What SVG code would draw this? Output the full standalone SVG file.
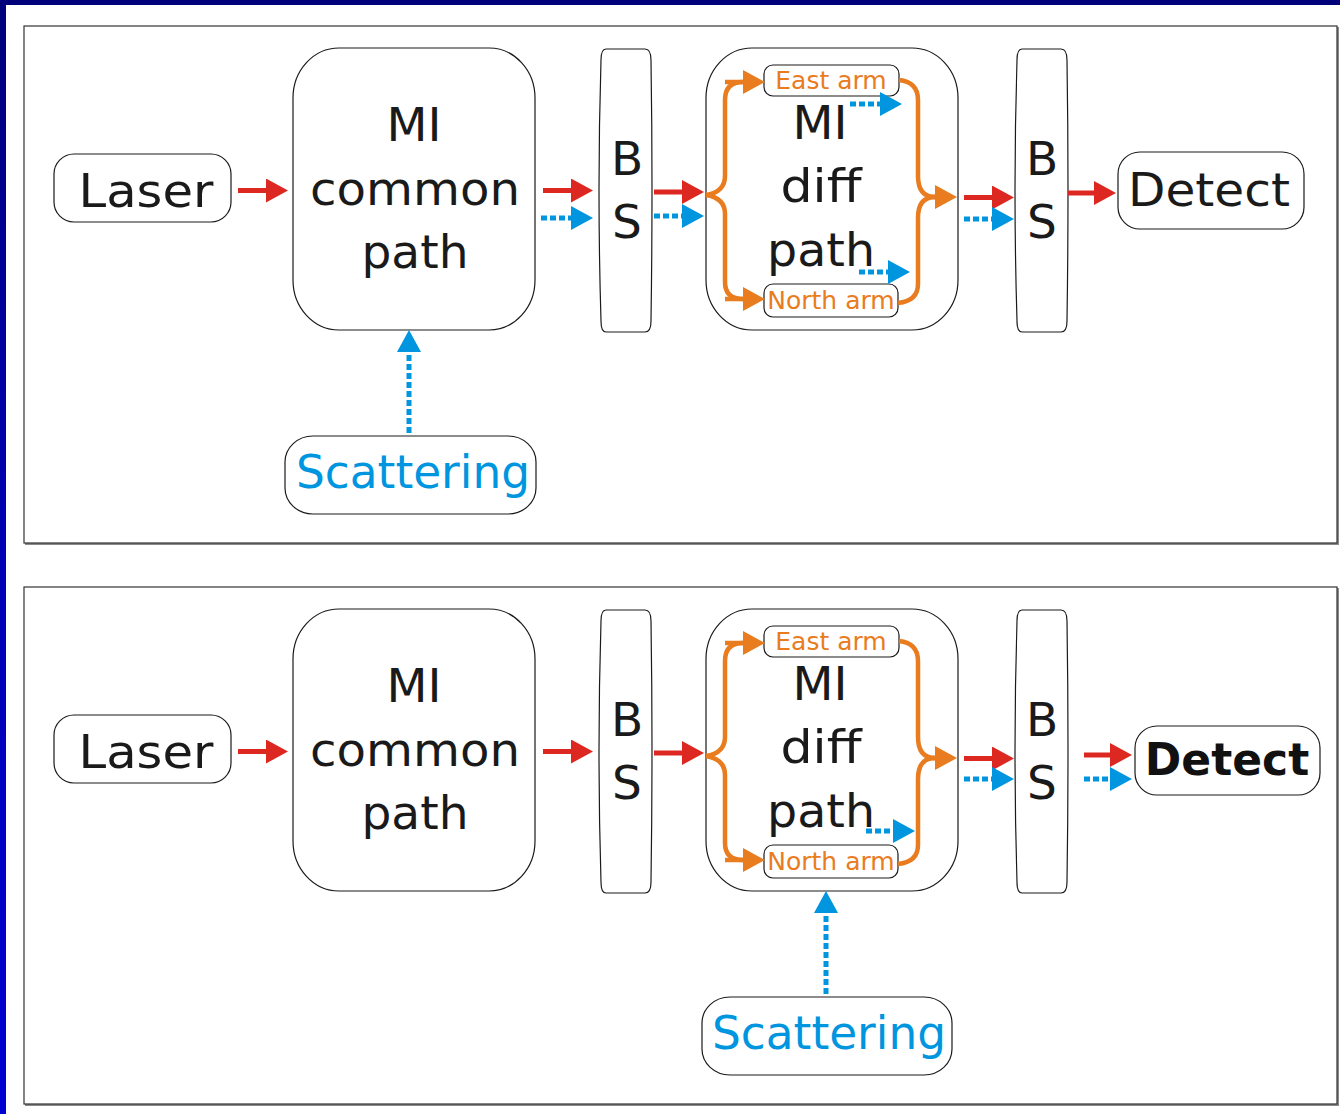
<svg xmlns="http://www.w3.org/2000/svg" width="1340" height="1114" viewBox="0 0 1340 1114">
  <defs>
    <linearGradient id="edge" x1="0" y1="0" x2="0" y2="1">
      <stop offset="0" stop-color="#00007a"/>
      <stop offset="0.5" stop-color="#0000b4"/>
      <stop offset="1" stop-color="#0000d0"/>
    </linearGradient>
    <marker id="headRed" markerUnits="userSpaceOnUse" markerWidth="22" markerHeight="24" refX="0" refY="12" orient="auto" viewBox="0 0 22 24">
      <path d="M0,0 L22,12 L0,24 Z" fill="#dc2820"/>
    </marker>
    <marker id="headBlue" markerUnits="userSpaceOnUse" markerWidth="22" markerHeight="24" refX="0" refY="12" orient="auto" viewBox="0 0 22 24">
      <path d="M0,0 L22,12 L0,24 Z" fill="#0095df"/>
    </marker>
    <marker id="headOrange" markerUnits="userSpaceOnUse" markerWidth="22" markerHeight="24" refX="0" refY="12" orient="auto" viewBox="0 0 22 24">
      <path d="M0,0 L22,12 L0,24 Z" fill="#e87c1e"/>
    </marker>
    <path id="bsShape" d="M606,49 L645,49 Q651,49 651,60 Q653,190 651,321 Q651,332 645,332 L606,332 Q601,332 601,321 Q597,190 601,60 Q601,49 606,49 Z"/>
  </defs>
  <style>
    .box { fill: #ffffff; stroke: #1a1a1a; stroke-width: 1.2; }
    .panel { fill: #ffffff; stroke: #333333; stroke-width: 1.2; }
    .shadow { fill: none; stroke: #8a8a8a; stroke-width: 2; }
    .lbl { font-family: "DejaVu Sans", "Liberation Sans", sans-serif; font-size: 47px; fill: #1a1a1a; text-anchor: middle; }
    .blue { fill: #0095df; }
    .arm { font-family: "DejaVu Sans", "Liberation Sans", sans-serif; font-size: 25px; fill: #e87c1e; text-anchor: middle; }
    .bold { font-family: "DejaVu Sans", "Liberation Sans", sans-serif; font-size: 44px; font-weight: bold; fill: #111111; text-anchor: middle; }
    .red { fill: none; stroke: #dc2820; stroke-width: 5; marker-end: url(#headRed); }
    .dot { fill: none; stroke: #0095df; stroke-width: 5; stroke-dasharray: 6 3; marker-end: url(#headBlue); }
    .brace { fill: none; stroke: #e87c1e; stroke-width: 4.5; stroke-linejoin: round; }
    .braceArrow { fill: none; stroke: #e87c1e; stroke-width: 4.5; marker-end: url(#headOrange); }
  </style>

  <!-- frame edges -->
  <rect x="0" y="0" width="1340" height="1114" fill="#ffffff"/>
  <rect x="0" y="0" width="1340" height="5" fill="#00007a"/>
  <rect x="0" y="0" width="6" height="1114" fill="url(#edge)"/>

  <!-- panels -->
  <g id="panel-top">
    <path class="shadow" d="M1338,27 L1338,544 L25,544"/>
    <rect class="panel" x="24" y="26" width="1313" height="517"/>
  </g>
  <g id="panel-bottom">
    <path class="shadow" d="M1338,588 L1338,1105 L25,1105"/>
    <rect class="panel" x="24" y="587" width="1313" height="517"/>
  </g>

  <!-- ===== top panel nodes ===== -->
  <g id="laser-1">
    <rect class="box" x="54" y="154" width="177" height="68" rx="20" ry="20"/>
    <text class="lbl" x="146" y="207" textLength="135" lengthAdjust="spacingAndGlyphs">Laser</text>
  </g>
  <g id="common-1">
    <rect class="box" x="293" y="48" width="242" height="282" rx="46" ry="50"/>
    <text class="lbl" x="414" y="141" textLength="55" lengthAdjust="spacingAndGlyphs">MI</text>
    <text class="lbl" x="415" y="205" textLength="210" lengthAdjust="spacingAndGlyphs">common</text>
    <text class="lbl" x="415" y="268" textLength="107" lengthAdjust="spacingAndGlyphs">path</text>
  </g>
  <g id="bs-a-1">
    <use href="#bsShape" class="box"/>
    <text class="lbl" x="627" y="175">B</text>
    <text class="lbl" x="627" y="238">S</text>
  </g>
  <g id="diff-1">
    <rect class="box" x="706" y="48" width="252" height="282" rx="46" ry="50"/>
    <text class="lbl" x="820" y="139" textLength="55" lengthAdjust="spacingAndGlyphs">MI</text>
    <text class="lbl" x="821" y="202" textLength="81" lengthAdjust="spacingAndGlyphs">diff</text>
    <text class="lbl" x="821" y="266" textLength="108" lengthAdjust="spacingAndGlyphs">path</text>
  </g>
  <g id="east-1">
    <rect class="box" x="764" y="65" width="135" height="31" rx="9" ry="9"/>
    <text class="arm" x="831" y="89">East arm</text>
  </g>
  <g id="north-1">
    <rect class="box" x="764" y="284" width="134" height="33" rx="9" ry="9"/>
    <text class="arm" x="831" y="309">North arm</text>
  </g>
  <g id="bs-b-1">
    <use href="#bsShape" class="box" transform="translate(416,0)"/>
    <text class="lbl" x="1042" y="175">B</text>
    <text class="lbl" x="1042" y="238">S</text>
  </g>
  <g id="detect-1">
    <rect class="box" x="1118" y="152" width="186" height="77" rx="22" ry="22"/>
    <text class="lbl" x="1209" y="206" textLength="162" lengthAdjust="spacingAndGlyphs">Detect</text>
  </g>
  <g id="scatter-1">
    <rect class="box" x="285" y="436" width="251" height="78" rx="28" ry="26"/>
    <text class="lbl blue" x="413" y="488" textLength="234" lengthAdjust="spacingAndGlyphs">Scattering</text>
  </g>

  <!-- ===== bottom panel nodes ===== -->
  <g id="laser-2">
    <rect class="box" x="54" y="715" width="177" height="68" rx="20" ry="20"/>
    <text class="lbl" x="146" y="768" textLength="135" lengthAdjust="spacingAndGlyphs">Laser</text>
  </g>
  <g id="common-2">
    <rect class="box" x="293" y="609" width="242" height="282" rx="46" ry="50"/>
    <text class="lbl" x="414" y="702" textLength="55" lengthAdjust="spacingAndGlyphs">MI</text>
    <text class="lbl" x="415" y="766" textLength="210" lengthAdjust="spacingAndGlyphs">common</text>
    <text class="lbl" x="415" y="829" textLength="107" lengthAdjust="spacingAndGlyphs">path</text>
  </g>
  <g id="bs-a-2">
    <use href="#bsShape" class="box" transform="translate(0,561)"/>
    <text class="lbl" x="627" y="736">B</text>
    <text class="lbl" x="627" y="799">S</text>
  </g>
  <g id="diff-2">
    <rect class="box" x="706" y="609" width="252" height="282" rx="46" ry="50"/>
    <text class="lbl" x="820" y="700" textLength="55" lengthAdjust="spacingAndGlyphs">MI</text>
    <text class="lbl" x="821" y="763" textLength="81" lengthAdjust="spacingAndGlyphs">diff</text>
    <text class="lbl" x="821" y="827" textLength="108" lengthAdjust="spacingAndGlyphs">path</text>
  </g>
  <g id="east-2">
    <rect class="box" x="764" y="626" width="135" height="31" rx="9" ry="9"/>
    <text class="arm" x="831" y="650">East arm</text>
  </g>
  <g id="north-2">
    <rect class="box" x="764" y="845" width="134" height="33" rx="9" ry="9"/>
    <text class="arm" x="831" y="870">North arm</text>
  </g>
  <g id="bs-b-2">
    <use href="#bsShape" class="box" transform="translate(416,561)"/>
    <text class="lbl" x="1042" y="736">B</text>
    <text class="lbl" x="1042" y="799">S</text>
  </g>
  <g id="detect-2">
    <rect class="box" x="1135" y="726" width="185" height="69" rx="22" ry="22"/>
    <text class="bold" x="1227" y="775">Detect</text>
  </g>
  <g id="scatter-2">
    <rect class="box" x="702" y="997" width="250" height="78" rx="28" ry="26"/>
    <text class="lbl blue" x="829" y="1049" textLength="234" lengthAdjust="spacingAndGlyphs">Scattering</text>
  </g>

  <!-- ===== connectors ===== -->
  <g id="connectors">
    <!-- top panel -->
    <path class="red" d="M238,190.5 L266,190.5"/>
    <path class="red" d="M543,190.5 L571,190.5"/>
    <path class="dot" d="M541,218 L571,218"/>
    <path class="red" d="M654,192 L682,192"/>
    <path class="dot" d="M654,216 L682,216"/>
    <!-- split into the two arms -->
    <path class="brace" d="M706,195 Q725,192 725,176 L725,100 Q725,82 743,82"/>
    <path class="braceArrow" d="M725,82 L743,82"/>
    <path class="brace" d="M706,195 Q725,198 725,214 L725,282 Q725,299 743,299"/>
    <path class="braceArrow" d="M725,299 L743,299"/>
    <!-- recombination -->
    <path class="brace" d="M899,80 Q918,82 918,100 L918,176 Q918,197 935,197"/>
    <path class="brace" d="M898,303 Q918,301 918,284 L918,218 Q918,197 935,197"/>
    <path class="braceArrow" d="M925,197 L935,197"/>
    <path class="dot" d="M850,104 L880,104"/>
    <path class="dot" d="M859,272 L888,272"/>
    <path class="red" d="M964,197.5 L992,197.5"/>
    <path class="dot" d="M964,219 L992,219"/>
    <path class="red" d="M1068,193 L1094,193"/>
    <path class="dot" d="M409,433 L409,352"/>

    <!-- bottom panel -->
    <path class="red" d="M238,751.5 L266,751.5"/>
    <path class="red" d="M543,751.5 L571,751.5"/>
    <path class="red" d="M654,753 L682,753"/>
    <path class="brace" d="M706,756 Q725,753 725,737 L725,661 Q725,643 743,643"/>
    <path class="braceArrow" d="M725,643 L743,643"/>
    <path class="brace" d="M706,756 Q725,759 725,775 L725,843 Q725,860 743,860"/>
    <path class="braceArrow" d="M725,860 L743,860"/>
    <path class="brace" d="M899,641 Q918,643 918,661 L918,737 Q918,758 935,758"/>
    <path class="brace" d="M898,864 Q918,862 918,845 L918,779 Q918,758 935,758"/>
    <path class="braceArrow" d="M925,758 L935,758"/>
    <path class="dot" d="M866,831 L893,831"/>
    <path class="red" d="M964,758.5 L992,758.5"/>
    <path class="dot" d="M964,779 L992,779"/>
    <path class="red" d="M1084,755 L1110,755"/>
    <path class="dot" d="M1084,779 L1110,779"/>
    <path class="dot" d="M826,994 L826,913"/>
  </g>
</svg>
